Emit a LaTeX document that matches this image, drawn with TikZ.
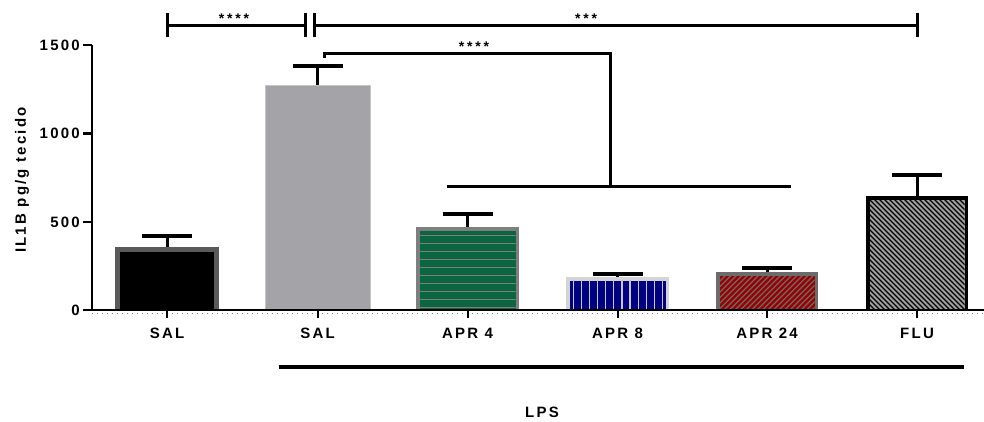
\documentclass[tikz,border=0pt]{standalone}
\usepackage{fontspec}
\setmainfont{Liberation Sans}
\newfontfamily\labf{Liberation Sans}[LetterSpace=15]
\newfontfamily\starf{Liberation Sans}[LetterSpace=20]
\begin{document}
\begin{tikzpicture}[x=1pt,y=-1pt,
  lab/.style={font=\labf\bfseries\fontsize{15}{16}\selectfont, inner sep=0pt},
  stars/.style={font=\starf\bfseries\fontsize{14}{15}\selectfont, inner sep=0pt, anchor=base},
  axisline/.style={line width=2.5pt, black},
  brk/.style={line width=3pt, black},
  errbar/.style={line width=3pt, black},
  errcap/.style={line width=3.5pt, black}]
\useasboundingbox (0,0) rectangle (984,421);
\definecolor{salborder}{HTML}{5A5A5A}
\definecolor{sal2fill}{HTML}{A4A3A7}
\definecolor{sal2border}{HTML}{C4C4C4}
\definecolor{aprfourfill}{HTML}{0B6540}
\definecolor{aprfourborder}{HTML}{7F7F7F}
\definecolor{apreightfill}{HTML}{000080}
\definecolor{apreightborder}{HTML}{D4D4D4}
\definecolor{aprtwfill}{HTML}{990000}
\definecolor{aprtwborder}{HTML}{6B6B6B}
\definecolor{flufill}{HTML}{A0A0A0}

% ---- error bars (drawn first, under bars) ----
\foreach \c/\t/\e in {167/247/236, 317.5/85/66, 467.5/227/214, 617.5/277/274, 767/272/268, 917/196/175}{
  \draw[errbar] (\c,\t+3) -- (\c,\e);
  \draw[errcap] (\c-25,\e) -- (\c+25,\e);
}

% ---- bars ----
% SAL
\fill[salborder] (115,247) rectangle (219,310);
\fill[black] (120,252) rectangle (214,310);
% SAL LPS
\fill[sal2border] (264.5,84.5) rectangle (370.5,310);
\fill[sal2fill] (265.5,85.5) rectangle (369.5,310);
% APR 4
\fill[aprfourborder] (416,227) rectangle (519,310);
\fill[aprfourfill] (419.5,230.5) rectangle (515.5,310);
\begin{scope}
  \clip (419.5,230.5) rectangle (515.5,310);
  \foreach \k in {0,...,9}{
    \draw[aprfourborder, line width=1pt] (419,235.3+8*\k) -- (516,235.3+8*\k);
  }
\end{scope}
% APR 8
\fill[apreightborder] (566,277) rectangle (669,310);
\fill[apreightfill] (569.5,280.5) rectangle (665.5,310);
\begin{scope}
  \clip (569.5,280.5) rectangle (665.5,310);
  \foreach \k in {0,...,11}{
    \draw[apreightborder!85!gray, line width=1.2pt] (573.3+8.1*\k,280) -- (573.3+8.1*\k,310);
  }
\end{scope}
% APR 24
\fill[aprtwborder] (716,272) rectangle (818,310);
\fill[aprtwfill] (719.5,275.5) rectangle (814.5,310);
\begin{scope}
  \clip (719.5,275.5) rectangle (814.5,310);
  \foreach \k in {0,...,26}{
    \draw[aprtwborder, line width=1.3pt] (680+5.5*\k,310) -- (680+5.5*\k+50,260);
  }
\end{scope}
% FLU
\fill[black] (866,196) rectangle (968,310);
\fill[flufill] (869.5,199.5) rectangle (964.5,310);
\begin{scope}
  \clip (869.5,199.5) rectangle (964.5,310);
  \foreach \k in {0,...,45}{
    \draw[black, line width=1.2pt] (750+5*\k,190) -- (750+5*\k+125,315);
  }
\end{scope}

% ---- axes ----
\draw[gray, line width=0.6pt, dash pattern=on 0.8pt off 4.2pt] (92,313) -- (984,313);
\draw[axisline] (92,45) -- (92,311.25);
\draw[axisline] (90.75,310) -- (984,310);
\foreach \v/\yy in {0/310, 500/222, 1000/133.3, 1500/45}{
  \draw[axisline] (83,\yy) -- (92,\yy);
  \node[lab, anchor=east] (yt\v) at (80,\yy) {\v};
}
\foreach \c/\n/\t in {167/sal/SAL, 317.5/saltwo/SAL, 467.5/aprfour/APR 4, 617.5/apreight/APR 8, 767/aprtw/APR 24, 917/flu/FLU}{
  \draw[line width=2pt] (\c,310) -- (\c,318);
  \node[lab] (l\n) at (\c,333) {\t};
}
\node[lab, rotate=90] (ylab) at (22,180) {IL1B pg/g tecido};

% ---- significance brackets ----
\coordinate (b1a) at (167,25);
\coordinate (b1b) at (305,25);
\draw[brk] (b1a) -- (b1b);
\draw[brk] (167,13) -- (167,37);
\draw[brk] (305,13) -- (305,37);
\node[stars] (s1) at (234,23) {****};

\coordinate (b2a) at (314,25);
\coordinate (b2b) at (917,25);
\draw[brk] (b2a) -- (b2b);
\draw[brk] (314,13) -- (314,37);
\draw[brk] (917,13) -- (917,37);
\node[stars] (s2) at (586,23) {***};

\coordinate (b3a) at (324,58);
\coordinate (b3b) at (324,53);
\coordinate (b3c) at (610,53);
\coordinate (b3d) at (610,186);
\draw[brk] (b3a) -- (b3b) -- (b3c) -- (b3d);
\coordinate (b4a) at (447,186);
\coordinate (b4b) at (791,186);
\draw[brk] (b4a) -- (b4b);
\node[stars] (s3) at (474,51) {****};

% ---- LPS group ----
\coordinate (lpsa) at (279,367);
\coordinate (lpsb) at (964,367);
\draw[line width=4.5pt] (lpsa) -- (lpsb);
\node[lab] (lps) at (542,412) {LPS};
\end{tikzpicture}
\end{document}
